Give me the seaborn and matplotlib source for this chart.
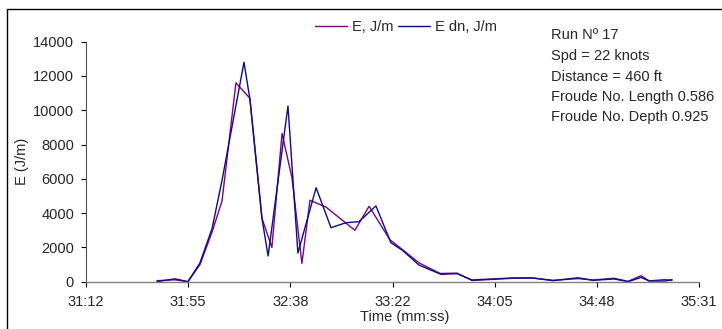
import pandas as pd
import matplotlib
matplotlib.use("Agg")
import matplotlib.pyplot as plt
import seaborn as sns
from matplotlib.patches import Rectangle

# ===== DATA (time in seconds, energy in J/m) =====
e_time = [1902.0, 1909.6, 1915.1, 1920.2, 1925.3, 1929.5, 1935.4, 1941.3, 1946.4, 1950.6,
          1954.9, 1959.1, 1963.3, 1966.7, 1973.5, 1985.7, 1991.7, 2000.5, 2006.0, 2012.8,
          2021.7, 2028.9, 2035.2, 2052.5, 2060.6, 2069.5, 2080.0, 2086.4, 2095.3, 2101.2,
          2106.7, 2110.1, 2116.8, 2119.8]
e_vals = [60, 110, 0, 1000, 2900, 4700, 11600, 10700, 3700, 2000,
          8650, 6050, 1070, 4750, 4350, 3000, 4400, 2450, 1850, 1100,
          480, 500, 70, 200, 220, 80, 180, 100, 200, 20,
          350, 50, 120, 80]

edn_time = [1902.0, 1909.6, 1915.1, 1920.2, 1925.3, 1929.5, 1938.8, 1941.3, 1946.4, 1949.0,
            1957.4, 1961.6, 1969.3, 1975.6, 1981.9, 1987.4, 1994.6, 2000.9, 2006.0, 2012.8,
            2022.1, 2028.9, 2035.2, 2052.5, 2060.6, 2069.5, 2080.0, 2086.4, 2095.3, 2101.2,
            2106.7, 2110.1, 2116.8, 2119.8]
edn_vals = [0, 170, 0, 1100, 3100, 5900, 12800, 10650, 3700, 1500,
            10250, 1670, 5480, 3150, 3440, 3500, 4420, 2280, 1810, 970,
            430, 470, 100, 220, 220, 60, 230, 80, 160, 0,
            250, 40, 40, 120]

series_names = ["E, J/m", "E dn, J/m"]
x_ticks = [1872.0, 1915.2, 1958.4, 2001.6, 2044.8, 2088.0, 2131.2]
x_tick_labels = ["31:12", "31:55", "32:38", "33:22", "34:05", "34:48", "35:31"]
y_ticks = [0, 2000, 4000, 6000, 8000, 10000, 12000, 14000]
info_lines = ["Run N\u00ba 17", "Spd = 22 knots", "Distance = 460 ft",
              "Froude No. Length 0.586", "Froude No. Depth 0.925"]

df = pd.concat([
    pd.DataFrame({"time": e_time, "energy": e_vals, "series": series_names[0]}),
    pd.DataFrame({"time": edn_time, "energy": edn_vals, "series": series_names[1]}),
], ignore_index=True)

sns.set_style("white")
plt.rcParams["font.family"] = ["Liberation Sans", "DejaVu Sans"]

W, H = 722, 329
fig = plt.figure(figsize=(W / 100, H / 100), dpi=100)
ax = fig.add_axes([86 / W, 1 - 281.7 / H, 613 / W, 240 / H])

palette = {series_names[0]: "#800080", series_names[1]: "#0a0a96"}
sns.lineplot(data=df, x="time", y="energy", hue="series", palette=palette,
             estimator=None, linewidth=1.0, ax=ax)

ax.set_xlim(x_ticks[0], x_ticks[-1])
ax.set_ylim(0, 14000)
ax.set_xticks(x_ticks)
ax.set_xticklabels(x_tick_labels)
ax.set_yticks(y_ticks)
ax.tick_params(axis="both", which="major", labelsize=10.5, length=3.6,
               width=0.8, color="black", direction="out")
ax.tick_params(axis="x", pad=6)
ax.tick_params(axis="y", pad=5)
ax.xaxis.set_ticks_position("bottom")
ax.yaxis.set_ticks_position("left")

for side in ["top", "right"]:
    ax.spines[side].set_visible(False)
ax.spines["bottom"].set_color("#808080")
ax.spines["left"].set_color("#505050")
ax.spines["bottom"].set_linewidth(1.0)
ax.spines["left"].set_linewidth(0.8)

ax.set_xlabel("Time (mm:ss)", fontsize=10.5)
ax.xaxis.set_label_coords((405 - 86) / 613, -(317 - 281.7) / 240)
ax.xaxis.label.set_va("center")
ax.set_ylabel("E (J/m)", fontsize=10.5)
ax.yaxis.set_label_coords(-(86 - 22) / 613, 0.5)
ax.yaxis.label.set_va("center")

handles, labels = ax.get_legend_handles_labels()
ax.get_legend().remove()
fig.legend(handles, labels, loc="center", bbox_to_anchor=(406 / W, 1 - 27 / H),
           ncol=2, frameon=False, fontsize=10.5, handlelength=2.2,
           handletextpad=0.35, columnspacing=0.35, borderpad=0)

baselines = [39.3, 60.0, 80.8, 101.3, 121.5]
for line, yb in zip(info_lines, baselines):
    fig.text(551 / W, 1 - yb / H, line, fontsize=10.5, va="baseline", ha="left")

# chart frame
fig.patches.append(Rectangle((7 / W, -0.1), 1.2, 1.1 - 9 / H, transform=fig.transFigure,
                             fill=False, edgecolor="black", linewidth=1.0))

fig.savefig("out.png", dpi=100)
